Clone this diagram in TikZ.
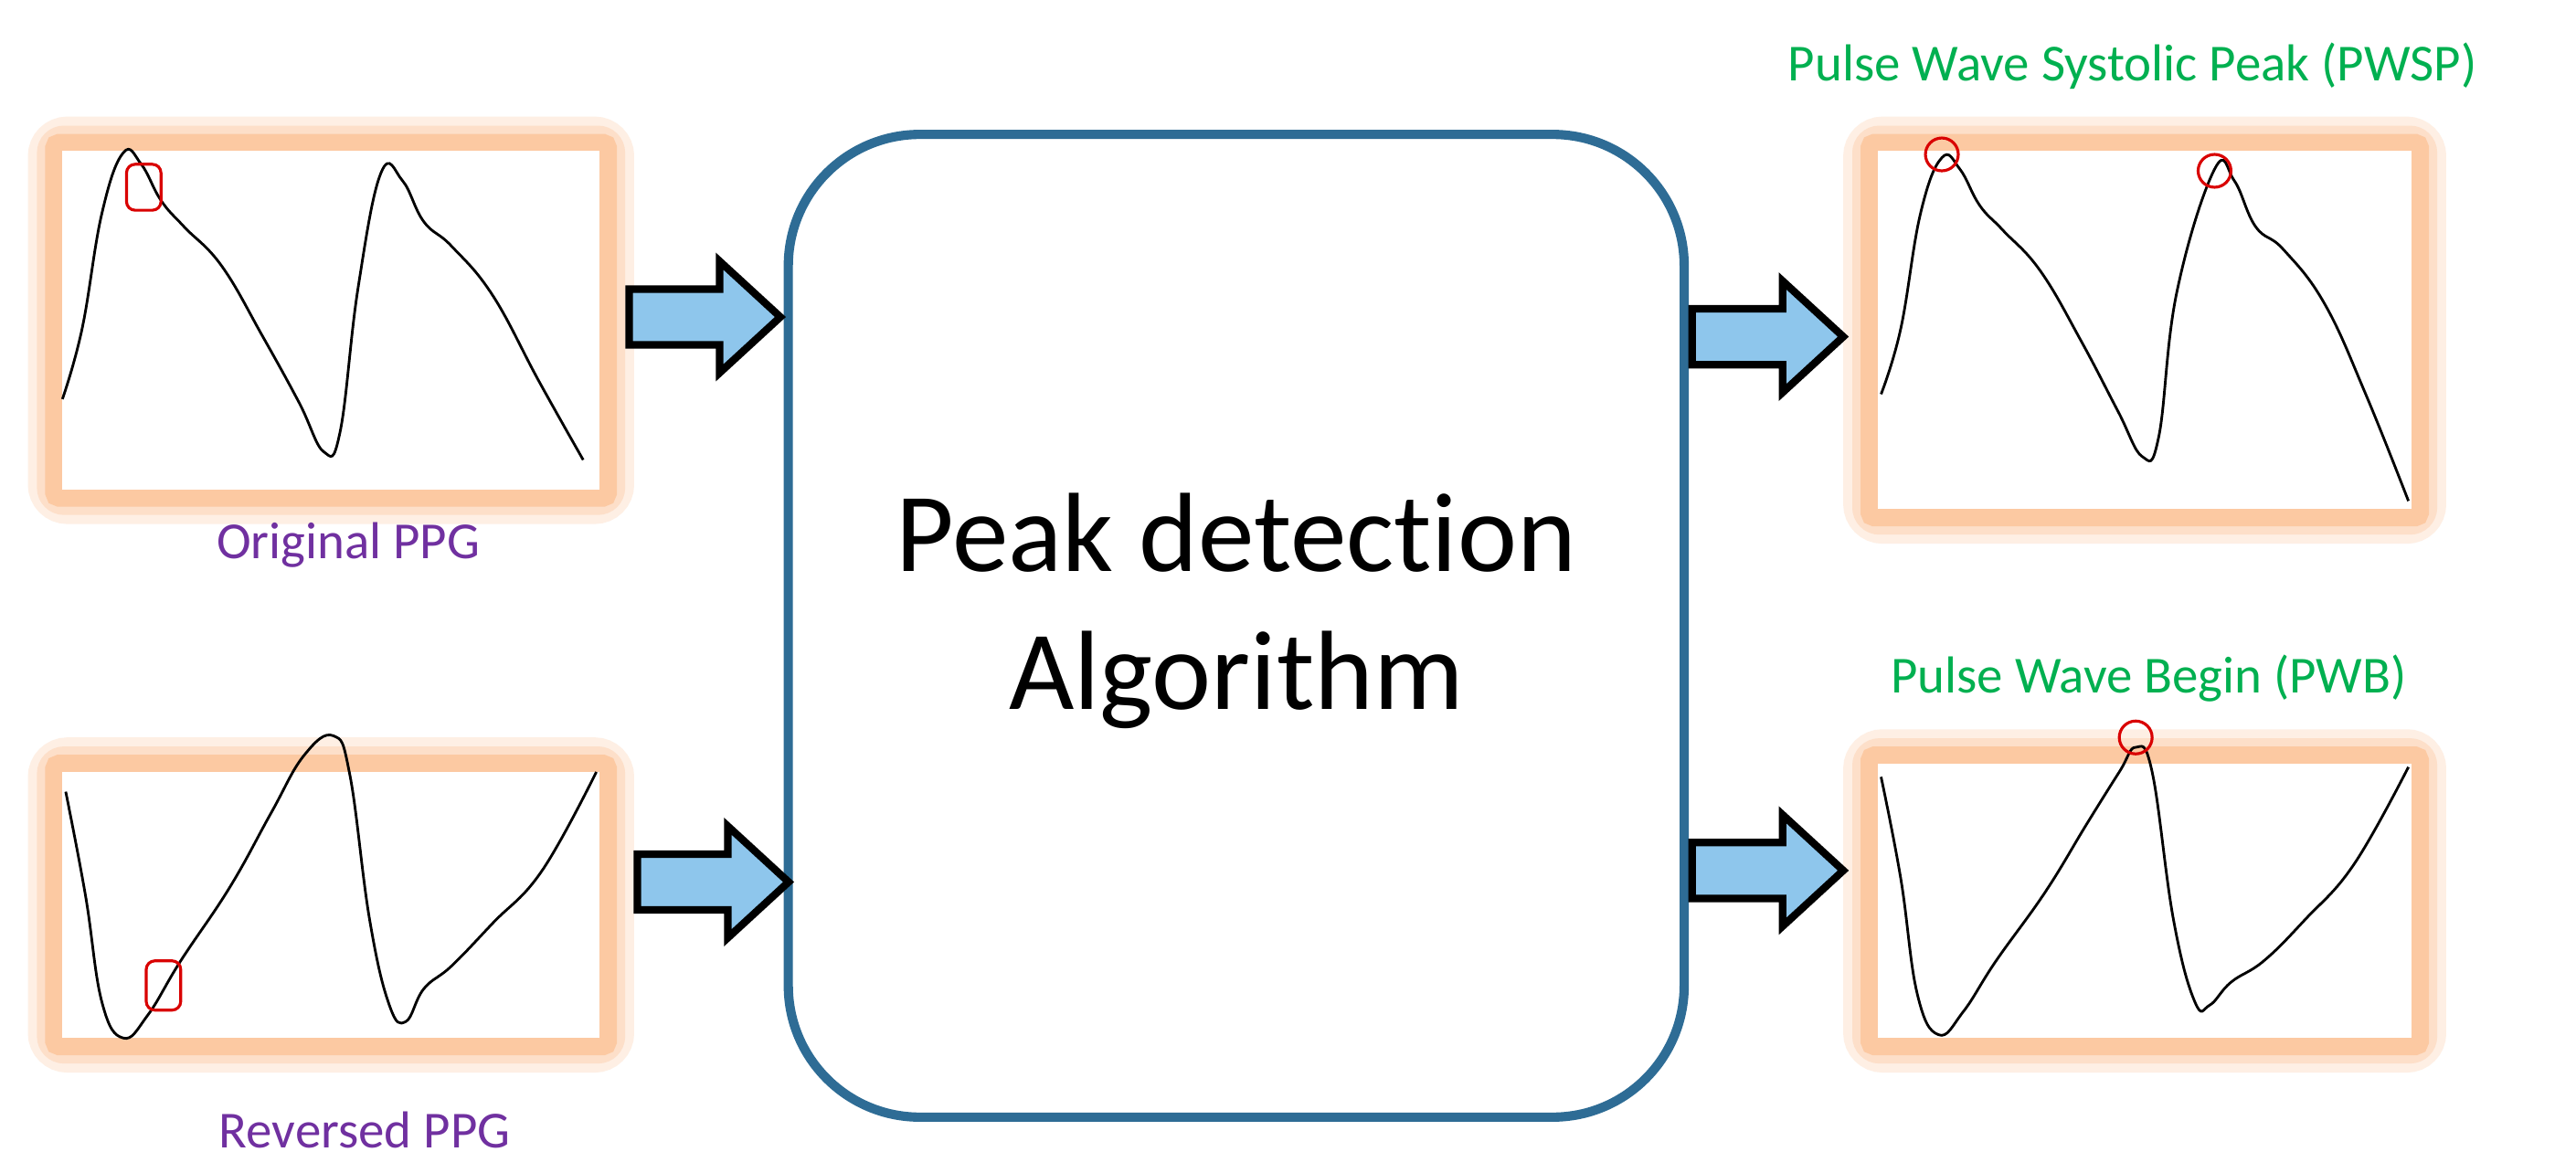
\documentclass[tikz,border=0pt]{standalone}
\usepackage{fontspec}
\setmainfont{Carlito}[Ligatures=NoCommon]
\definecolor{arrfill}{HTML}{8EC6EC}
\definecolor{ppl}{HTML}{7030A0}
\definecolor{gr}{HTML}{00B050}
\definecolor{boxc}{HTML}{2E6C95}
\definecolor{glow}{HTML}{FBBF92}
\begin{document}
\begin{tikzpicture}[x=0.01cm,y=-0.01cm,
  wave/.style={line width=0.45pt,black},
  redmark/.style={draw=red!85!black,line width=0.5pt},
  glowA/.style={draw=glow!25,line width=0.24cm,rounded corners=0.12cm},
  glowB/.style={draw=glow!50,line width=0.17cm,rounded corners=0.08cm},
  glowC/.style={draw=glow!85,line width=0.11cm,rounded corners=0.03cm},
  barrow/.style={fill=arrfill,draw=black,line width=1.3pt,line join=miter},
  purp/.style={text=ppl,font=\fontsize{9}{11}\selectfont},
  grn/.style={text=gr,font=\fontsize{9}{11}\selectfont}]
\useasboundingbox (0,0) rectangle (1568,714);
\fill[white] (0,0) rectangle (1568,714);
% panels
\foreach \n/\xa/\ya/\xb/\yb in {tl/38/92/365/298, bl/38/470/365/632, tr/1143/92/1468/310, br/1143/465/1468/632}{
  \draw[glowA] (\xa-9,\ya-9) rectangle (\xb+9,\yb+9);
  \draw[glowB] (\xa-7,\ya-7) rectangle (\xb+7,\yb+7);
  \draw[glowC] (\xa-5,\ya-5) rectangle (\xb+5,\yb+5);
  \node[fill=white,inner sep=0,minimum width={(\xb-\xa)*0.01cm},minimum height={(\yb-\ya)*0.01cm}] (\n) at ({(\xa+\xb)/2},{(\ya+\yb)/2}) {};
}
% waves
\draw[wave] plot[smooth,tension=0.7] coordinates {(38,243) (50,200) (62,130) (75,93) (86,100) (98,122) (112,138) (135,162) (160,205) (182,245) (197,275) (207,263) (218,175) (232,105) (245,110) (258,135) (275,150) (300,180) (328,232) (355,280)};
\draw[redmark,rounded corners=1.5pt] (77,100) rectangle (98,128);
\draw[wave] plot[smooth,tension=0.7] coordinates {(40,482) (52,545) (62,610) (75,632) (90,618) (110,585) (140,540) (165,495) (185,460) (203,448) (213,472) (225,560) (237,612) (247,622) (258,602) (275,588) (300,562) (330,530) (363,470)};
\draw[redmark,rounded corners=1.5pt] (89,585) rectangle (110,615);
\draw[wave] plot[smooth,tension=0.7] coordinates {(1145,240) (1157,200) (1169,130) (1182,96) (1193,103) (1205,125) (1219,140) (1242,165) (1267,208) (1289,250) (1304,278) (1314,266) (1325,178) (1348,103) (1360,110) (1373,138) (1390,152) (1415,185) (1440,240) (1466,305)};
\draw[redmark] (1182,94) circle (10);
\draw[redmark] (1348,104) circle (10);
\draw[wave] plot[smooth,tension=0.7] coordinates {(1145,473) (1157,535) (1167,605) (1180,630) (1195,616) (1215,585) (1245,543) (1270,502) (1290,470) (1300,455) (1310,470) (1323,560) (1336,610) (1345,612) (1358,598) (1378,585) (1403,560) (1433,526) (1466,467)};
\draw[redmark] (1300,449) circle (10);
% central box
\node[draw=boxc,line width=1.6pt,rounded corners=0.8cm,minimum width=5.45cm,minimum height=5.98cm,inner sep=0] (alg) at (752.5,381) {};
\node[align=center,font=\fontsize{19.5}{23.8}\selectfont] (algt) at (752.5,372) {Peak detection\\Algorithm};
% labels
\node[purp] (lo) at (212,332) {Original PPG};
\node[purp] (lr) at (222,688) {Reversed PPG};
\node[grn] (lp) at (1298,40) {Pulse Wave Systolic Peak (PWSP)};
\node[grn] (lb) at (1308,413) {Pulse Wave Begin (PWB)};
% block arrows
\foreach \n/\x/\y in {a1/383/193, a2/388/537, a3/1030/205, a4/1030/530}{
  \coordinate (\n) at (\x,\y);
  \draw[barrow] (\n) ++(0,-17) -- ++(55,0) -- ++(0,-17) -- ++(37,34) -- ++(-37,34) -- ++(0,-17) -- ++(-55,0) -- cycle;
}
\end{tikzpicture}
\end{document}
